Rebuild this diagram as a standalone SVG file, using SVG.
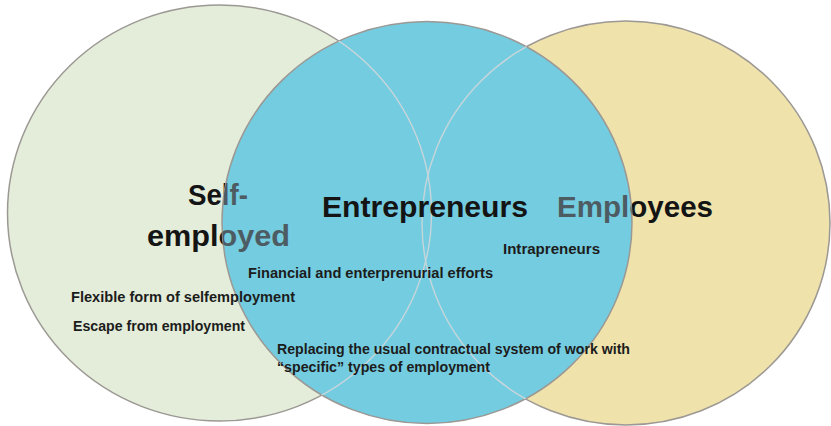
<svg xmlns="http://www.w3.org/2000/svg" width="831" height="426" viewBox="0 0 831 426">
<style>
.circ{stroke:#9c9894;stroke-width:1.5}
.faint{fill:none;stroke:#c6d6db;stroke-width:1.4}
.big{font-family:"Liberation Sans",Arial,sans-serif;font-weight:bold;font-size:30px;fill:#141414}
.big.under{fill:#4d5c62}
.small{font-family:"Liberation Sans",Arial,sans-serif;font-weight:bold;font-size:14px;fill:#1c1c1c}
</style>
<defs>
<clipPath id="blueClip"><ellipse cx="427" cy="222.5" rx="205" ry="201"/></clipPath>
</defs>
<rect width="831" height="426" fill="#ffffff"/>
<g id="self-employed">
<ellipse class="circ" cx="219.5" cy="213" rx="212" ry="208" fill="#e3edd9"/>
<text class="big" x="188" y="205" textLength="60" lengthAdjust="spacingAndGlyphs">Self-</text>
<text class="big" x="147" y="246" textLength="143" lengthAdjust="spacingAndGlyphs">employed</text>
</g>
<g id="employees">
<ellipse class="circ" cx="626" cy="223" rx="204" ry="202" fill="#efe2ab"/>
<text class="big" x="557" y="217" textLength="156" lengthAdjust="spacingAndGlyphs">Employees</text>
</g>
<g id="entrepreneurs">
<ellipse class="circ" cx="427" cy="222.5" rx="205" ry="201" fill="#74cce0"/>
<g clip-path="url(#blueClip)">
<ellipse class="faint" cx="219.5" cy="213" rx="212" ry="208"/>
<ellipse class="faint" cx="626" cy="223" rx="204" ry="202"/>
<text class="big under" x="188" y="205" textLength="60" lengthAdjust="spacingAndGlyphs">Self-</text>
<text class="big under" x="147" y="246" textLength="143" lengthAdjust="spacingAndGlyphs">employed</text>
<text class="big under" x="557" y="217" textLength="156" lengthAdjust="spacingAndGlyphs">Employees</text>
</g>
<text class="big" x="322" y="217" textLength="206" lengthAdjust="spacingAndGlyphs">Entrepreneurs</text>
</g>
<g id="labels">
<text class="small" x="503" y="254" textLength="97" lengthAdjust="spacingAndGlyphs">Intrapreneurs</text>
<text class="small" x="248" y="278" textLength="245" lengthAdjust="spacingAndGlyphs">Financial and enterprenurial efforts</text>
<text class="small" x="71" y="302" textLength="224" lengthAdjust="spacingAndGlyphs">Flexible form of selfemployment</text>
<text class="small" x="73" y="331" textLength="172" lengthAdjust="spacingAndGlyphs">Escape from employment</text>
<text class="small" x="277" y="354" textLength="353" lengthAdjust="spacingAndGlyphs">Replacing the usual contractual system of work with</text>
<text class="small" x="277" y="372" textLength="213" lengthAdjust="spacingAndGlyphs">“specific” types of employment</text>
</g>
<g id="connectors"/>
</svg>
